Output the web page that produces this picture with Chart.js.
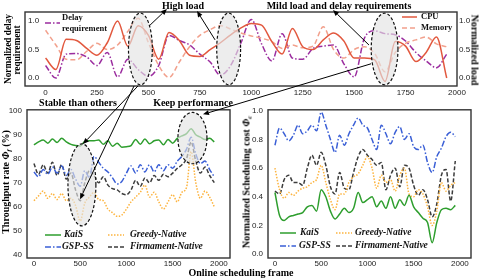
<!DOCTYPE html>
<html>
<head>
<meta charset="utf-8">
<script src="https://cdn.jsdelivr.net/npm/chart.js@4.4.0/dist/chart.umd.min.js"></script>
<style>
body { margin: 0; background: #fff; width: 482px; height: 280px; position: relative; overflow: hidden; }
canvas { position: absolute; }
.lbl { position: absolute; font: bold 10px "Liberation Serif", serif; white-space: nowrap; color: #000; transform: translate(-50%, -50%); }
.up { transform: translate(-50%, -50%) rotate(-90deg); }
.down { transform: translate(-50%, -50%) rotate(90deg); }
sub { font-size: 7px; vertical-align: -2px; }
</style>
</head>
<body>
<canvas id="topChart" width="482" height="100" style="left:0;top:0"></canvas>
<canvas id="thrChart" width="241" height="170" style="left:0;top:100px"></canvas>
<canvas id="costChart" width="241" height="170" style="left:241px;top:100px"></canvas>
<canvas id="overlay" width="482" height="280" style="left:0;top:0"></canvas>

<div class="lbl" style="left:183px;top:5px">High load</div>
<div class="lbl" style="left:339px;top:5px">Mild load and delay requirements</div>
<div class="lbl" style="left:78px;top:102px">Stable than others</div>
<div class="lbl" style="left:193px;top:102px">Keep performance</div>
<div class="lbl" style="left:241px;top:272px">Online scheduling frame</div>
<div class="lbl up" style="left:8px;top:49px;font-size:9.3px">Normalized delay</div>
<div class="lbl up" style="left:17px;top:50px;font-size:9.3px">requirement</div>
<div class="lbl down" style="left:475px;top:50px">Normalized load</div>
<div class="lbl up" style="left:6px;top:182px">Throughput rate <i>Φ<sub>f</sub></i> (%)</div>
<div class="lbl up" style="left:247px;top:182px">Normalized Scheduling cost <i>Φ<sub>c</sub></i></div>

<script>
// x positions (online scheduling frame)
const frames = [0, 50, 100, 150, 200, 250, 300, 350, 400, 450, 500, 550, 600, 650, 700, 750, 800, 850, 900, 950,
  1000, 1050, 1100, 1150, 1200, 1250, 1300, 1350, 1400, 1450, 1500, 1550, 1600, 1650, 1700, 1750, 1800, 1850, 1900, 1950];

// top panel: normalized load / delay
const cpuLoad = [0.35, 0.15, 0.68, 0.66, 0.52, 0.40, 0.62, 1.00, 0.56, 0.92, 0.75, 0.33, 0.80, 0.66, 0.40, 0.38, 0.50, 0.62, 0.76, 0.88,
  0.96, 0.93, 0.64, 0.42, 0.87, 0.55, 0.50, 0.67, 0.79, 0.65, 0.35, 0.35, 0.32, -0.06, 0.64, 0.56, 0.29, 0.45, 0.72, 0.00];
const memLoad = [0.84, 0.58, 0.33, 0.32, 0.47, 0.61, 0.50, 0.58, 0.82, 1.05, 0.62, 0.22, 0.01, 0.28, 0.55, 0.75, 0.85, 0.92, 0.86, 0.79,
  0.74, 0.70, 0.64, 0.52, 0.58, 0.53, 0.56, 0.90, 0.50, 0.35, 0.50, 0.55, 0.43, 0.11, 0.45, 0.61, 0.67, 0.72, 0.60, 0.55];
const delayReq = [0.22, 0.00, 0.42, 0.43, 0.37, 0.22, 0.45, 0.02, 0.33, 0.15, 0.03, 0.22, 0.75, 0.66, 0.58, 0.42, 0.28, 0.05, 0.22, 0.62,
  1.03, 0.60, 0.30, 0.78, 0.35, 0.33, 0.52, 0.56, 0.58, 0.25, 0.02, 0.70, 0.83, 0.78, 0.76, 0.65, 0.45, 0.30, 0.18, 0.42];

// bottom left: throughput rate (%)
const thrKaiS = [85.8, 87, 87.8, 86.5, 88.2, 86.8, 88.5, 87, 86, 85.5, 85.3, 87.2, 87.5, 87.5, 87.8, 86, 87.5, 85.2, 86.5, 84.8,
  85, 85.5, 88, 86, 88.2, 86.2, 87.5, 87.8, 85.8, 88, 86.5, 88.5, 89.5, 90.5, 92.5, 90, 89, 88, 88.5, 87];
const thrGSP = [74.5, 72.5, 75.5, 73.5, 76.5, 74, 77, 73, 75.5, 71.5, 68.5, 75, 72, 81, 78.5, 76, 74.5, 72, 69.5, 70.5,
  74, 77, 74, 77.5, 74.5, 77.5, 74.5, 77.5, 75, 77.5, 76, 79, 81, 84, 89, 82, 78, 79, 75.5, 72.5];
const thrGreedy = [62.5, 64.5, 66.5, 63.5, 65.5, 63, 65.5, 62.5, 63.5, 60.5, 54, 61.5, 64, 66, 63, 62.5, 59, 57.5, 56, 56.5,
  59, 62, 64, 66, 69, 64, 66, 62, 59, 62, 65, 62, 66, 68, 83, 70, 63.5, 66.5, 64, 60];
const thrFirm = [78, 73.5, 77.5, 74, 78.5, 73, 77.5, 71.5, 74, 67, 62.5, 70, 75, 73, 70, 72.5, 69, 67.5, 67, 65.5,
  65, 67, 71, 68.5, 72, 70, 73, 71, 73.5, 72.5, 74, 76, 77.5, 80, 87, 79, 74, 76.5, 73, 70];

// bottom right: normalized scheduling cost
const costKaiS = [0.43, 0.27, 0.235, 0.26, 0.27, 0.28, 0.29, 0.33, 0.34, 0.30, 0.45, 0.40, 0.30, 0.245, 0.28, 0.32, 0.29, 0.32, 0.43, 0.36,
  0.38, 0.40, 0.33, 0.37, 0.32, 0.40, 0.32, 0.38, 0.34, 0.41, 0.33, 0.29, 0.25, 0.22, 0.08, 0.22, 0.31, 0.32, 0.31, 0.34];
const costGSP = [0.76, 0.88, 0.84, 0.79, 0.83, 0.90, 0.84, 0.86, 0.90, 0.86, 0.99, 0.90, 0.80, 0.71, 0.83, 0.76, 0.84, 0.90, 0.95, 0.90,
  0.88, 0.80, 0.73, 0.90, 0.84, 0.77, 0.85, 0.89, 0.80, 0.84, 0.75, 0.73, 0.76, 0.64, 0.57, 0.68, 0.74, 0.82, 0.85, 0.82];
const costGreedy = [0.60, 0.45, 0.39, 0.43, 0.41, 0.44, 0.46, 0.47, 0.50, 0.52, 0.62, 0.50, 0.38, 0.31, 0.42, 0.42, 0.50, 0.54, 0.56, 0.62,
  0.68, 0.60, 0.46, 0.55, 0.50, 0.52, 0.44, 0.55, 0.60, 0.42, 0.40, 0.45, 0.42, 0.33, 0.20, 0.30, 0.50, 0.44, 0.48, 0.50];
const costFirm = [0.44, 0.42, 0.52, 0.55, 0.50, 0.50, 0.48, 0.60, 0.69, 0.62, 0.71, 0.62, 0.47, 0.42, 0.57, 0.46, 0.45, 0.57, 0.68, 0.73,
  0.69, 0.66, 0.62, 0.64, 0.45, 0.55, 0.60, 0.47, 0.62, 0.60, 0.48, 0.41, 0.45, 0.38, 0.26, 0.35, 0.55, 0.59, 0.37, 0.65];

// tick labels
const topTicksX = [0, 250, 500, 750, 1000, 1250, 1500, 1750, 2000];
const bottomTicksX = [0, 500, 1000, 1500, 2000];
const loadTicks = [0, 0.5, 1.0];
const thrTicks = [40, 50, 60, 70, 80, 90, 100];
const costTicks = [0, 0.2, 0.4, 0.6, 0.8, 1.0];

const sansTick = { family: 'Liberation Sans', size: 8 };
const COL = { cpu: '#e2583e', mem: '#f2a08c', delay: '#9b2d9f', kais: '#2e9e2e', gsp: '#3a5fd6', greedy: '#fdb43f', firm: '#3c3c3c' };
const DASH = { dash: [5, 3], dashdot: [6, 2, 1.5, 2], dot: [1.5, 1.5], gray: [4, 2] };
const noGrid = { display: false, drawTicks: false, tickLength: 0 };

function pts(ys) { return frames.map((f, i) => ({ x: f, y: ys[i] })); }
function line(label, ys, color, dash, extra) {
  return Object.assign({ label, data: pts(ys), borderColor: color, borderWidth: 1.5, borderDash: dash || [],
    pointRadius: 0, cubicInterpolationMode: 'monotone', fill: false }, extra || {});
}
function fixTicks(vals) { return s => { s.ticks = vals.map(v => ({ value: v })); }; }
function setW(w) { return s => { s.width = w; }; }
function setH(h) { return s => { s.height = h; }; }
const plain = v => String(v);

// box around the plot area
const framePlugin = {
  id: 'frame',
  afterDraw(chart) {
    const a = chart.chartArea, ctx = chart.ctx;
    ctx.save();
    ctx.strokeStyle = '#333'; ctx.lineWidth = 1.4;
    ctx.strokeRect(a.left, a.top, a.right - a.left, a.bottom - a.top);
    ctx.restore();
  }
};

// highlighted regions, given in data units
function ellipsePlugin(list) {
  return {
    id: 'ellipses',
    afterDatasetsDraw(chart) {
      const ctx = chart.ctx, sx = chart.scales.x, sy = chart.scales.y;
      list.forEach(e => {
        const cx = sx.getPixelForValue(e.x), cy = sy.getPixelForValue(e.y);
        const rx = Math.abs(sx.getPixelForValue(e.x + e.rx) - cx);
        const ry = Math.abs(sy.getPixelForValue(e.y + e.ry) - cy);
        ctx.save();
        ctx.beginPath();
        ctx.ellipse(cx, cy, rx, ry, 0, 0, Math.PI * 2);
        ctx.fillStyle = 'rgba(228,228,228,0.65)';
        ctx.fill();
        ctx.setLineDash([3, 2]); ctx.lineWidth = 1.2; ctx.strokeStyle = '#111';
        ctx.stroke();
        ctx.restore();
      });
    }
  };
}

// legend drawn from the dataset styles
function legendPlugin(cfg) {
  return {
    id: 'boxLegend',
    afterDraw(chart) {
      const ctx = chart.ctx;
      cfg.items.forEach(it => {
        const ds = chart.data.datasets[it.ds];
        ctx.save();
        ctx.strokeStyle = ds.borderColor; ctx.lineWidth = ds.borderWidth; ctx.setLineDash(ds.borderDash || []);
        ctx.beginPath(); ctx.moveTo(it.x, it.y); ctx.lineTo(it.x + cfg.len, it.y); ctx.stroke();
        ctx.setLineDash([]);
        ctx.fillStyle = '#111'; ctx.font = cfg.font; ctx.textBaseline = 'middle'; ctx.textAlign = 'left';
        const lines = it.text || [ds.label];
        lines.forEach((t, k) => ctx.fillText(t, it.tx, it.ty + k * cfg.lh));
        ctx.restore();
      });
    }
  };
}

const common = {
  responsive: false, animation: false, devicePixelRatio: 1,
  plugins: { legend: { display: false }, tooltip: { enabled: false } }
};

// ---- top panel ----
const topC = new Chart(document.getElementById('topChart'), {
  type: 'line',
  data: { datasets: [
    line('CPU', cpuLoad, COL.cpu),
    line('Memory', memLoad, COL.mem, DASH.dash),
    line('Delay requirement', delayReq, COL.delay, DASH.dashdot)
  ] },
  options: Object.assign({}, common, {
    layout: { padding: { top: 12 } },
    scales: {
      x: { type: 'linear', min: -100, max: 2000, grid: noGrid, border: { display: false },
        ticks: { font: sansTick, color: '#222', padding: 2, maxRotation: 0, callback: plain },
        afterBuildTicks: fixTicks(topTicksX), afterFit: setH(14) },
      y: { position: 'left', min: -0.14, max: 1.16, grid: noGrid, border: { display: false },
        ticks: { mirror: true, padding: 3, font: sansTick, color: '#222', callback: v => v.toFixed(1) },
        afterBuildTicks: fixTicks(loadTicks), afterFit: setW(25) },
      y2: { position: 'right', min: -0.14, max: 1.16, grid: noGrid, border: { display: false },
        ticks: { padding: 2, font: sansTick, color: '#222', callback: v => v.toFixed(1) },
        afterBuildTicks: fixTicks(loadTicks), afterFit: setW(25) }
    }
  }),
  plugins: [
    ellipsePlugin([
      { x: 461, y: 0.51, rx: 58, ry: 0.63 },
      { x: 890, y: 0.51, rx: 58, ry: 0.63 },
      { x: 1648, y: 0.51, rx: 65, ry: 0.63 }
    ]),
    framePlugin,
    legendPlugin({ len: 15, font: 'bold 8.5px "Liberation Serif"', lh: 11, items: [
      { ds: 2, x: 45, y: 23, tx: 62, ty: 18, text: ['Delay', 'requirement'] },
      { ds: 0, x: 402, y: 17, tx: 421, ty: 17 },
      { ds: 1, x: 402, y: 28, tx: 421, ty: 28 }
    ] })
  ]
});

// ---- bottom panels ----
function bottomScales(yMin, yMax, yTicks, fmt) {
  return {
    x: { type: 'linear', min: -75, max: 2120, grid: noGrid, border: { display: false },
      ticks: { font: sansTick, color: '#222', padding: 1, maxRotation: 0, callback: plain },
      afterBuildTicks: fixTicks(bottomTicksX), afterFit: setH(12) },
    y: { min: yMin, max: yMax, grid: noGrid, border: { display: false },
      ticks: { font: sansTick, color: '#222', padding: 5, callback: fmt },
      afterBuildTicks: fixTicks(yTicks), afterFit: setW(27) }
  };
}
const legendFont = 'bold italic 9.5px "Liberation Serif"';

const thrC = new Chart(document.getElementById('thrChart'), {
  type: 'line',
  data: { datasets: [
    line('KaiS', thrKaiS, COL.kais),
    line('GSP-SS', thrGSP, COL.gsp, DASH.dashdot),
    line('Greedy-Native', thrGreedy, COL.greedy, DASH.dot),
    line('Firmament-Native', thrFirm, COL.firm, DASH.gray)
  ] },
  options: Object.assign({}, common, {
    layout: { padding: { top: 7, right: 11 } },
    scales: bottomScales(38.6, 100.4, thrTicks, plain)
  }),
  plugins: [
    ellipsePlugin([
      { x: 519, y: 69.1, rx: 151, ry: 17.1 },
      { x: 1714, y: 88.6, rx: 157, ry: 10.7 }
    ]),
    framePlugin,
    legendPlugin({ len: 16, font: legendFont, lh: 0, items: [
      { ds: 0, x: 45, y: 135, tx: 64, ty: 135 },
      { ds: 1, x: 45, y: 147, tx: 62, ty: 147 },
      { ds: 2, x: 108, y: 135, tx: 130, ty: 135 },
      { ds: 3, x: 108, y: 147, tx: 130, ty: 147 }
    ] })
  ]
});

const costC = new Chart(document.getElementById('costChart'), {
  type: 'line',
  data: { datasets: [
    line('KaiS', costKaiS, COL.kais),
    line('GSP-SS', costGSP, COL.gsp, DASH.dashdot),
    line('Greedy-Native', costGreedy, COL.greedy, DASH.dot),
    line('Firmament-Native', costFirm, COL.firm, DASH.gray)
  ] },
  options: Object.assign({}, common, {
    layout: { padding: { top: 7, right: 11 } },
    scales: bottomScales(-0.027, 1.007, costTicks, v => v.toFixed(1))
  }),
  plugins: [
    framePlugin,
    legendPlugin({ len: 16, font: legendFont, lh: 0, items: [
      { ds: 0, x: 39, y: 133, tx: 59, ty: 133 },
      { ds: 1, x: 39, y: 146, tx: 58, ty: 146 },
      { ds: 2, x: 95, y: 133, tx: 114, ty: 133 },
      { ds: 3, x: 95, y: 146, tx: 114, ty: 146 }
    ] })
  ]
});

// ---- arrows between annotations ----
function at(chart, offX, offY, x, y) {
  return [offX + chart.scales.x.getPixelForValue(x), offY + chart.scales.y.getPixelForValue(y)];
}
const arrows = [
  { from: at(topC, 0, 0, 508, 0.93), to: [167, 9] },
  { from: at(topC, 0, 0, 824, 0.67), to: [197, 11] },
  { from: at(topC, 0, 0, 1572, 0.58), to: [333, 10] },
  { from: at(topC, 0, 0, 1582, 0.25), to: at(thrC, 0, 100, 1828, 98.5) },
  { from: at(topC, 0, 0, 449, -0.14), to: at(thrC, 0, 100, 530, 86.1) },
  { from: at(topC, 0, 0, 430, -0.14), to: at(thrC, 0, 100, 498, 63.1) }
];
const octx = document.getElementById('overlay').getContext('2d');
octx.strokeStyle = '#000'; octx.fillStyle = '#000'; octx.lineWidth = 1;
arrows.forEach(a => {
  const [x1, y1] = a.from, [x2, y2] = a.to;
  const ang = Math.atan2(y2 - y1, x2 - x1), L = 6, W = 2.5;
  const bx = x2 - L * Math.cos(ang), by = y2 - L * Math.sin(ang);
  octx.beginPath(); octx.moveTo(x1, y1); octx.lineTo(bx, by); octx.stroke();
  octx.beginPath();
  octx.moveTo(x2, y2);
  octx.lineTo(bx + W * Math.sin(ang), by - W * Math.cos(ang));
  octx.lineTo(bx - W * Math.sin(ang), by + W * Math.cos(ang));
  octx.closePath(); octx.fill();
});
</script>
</body>
</html>
